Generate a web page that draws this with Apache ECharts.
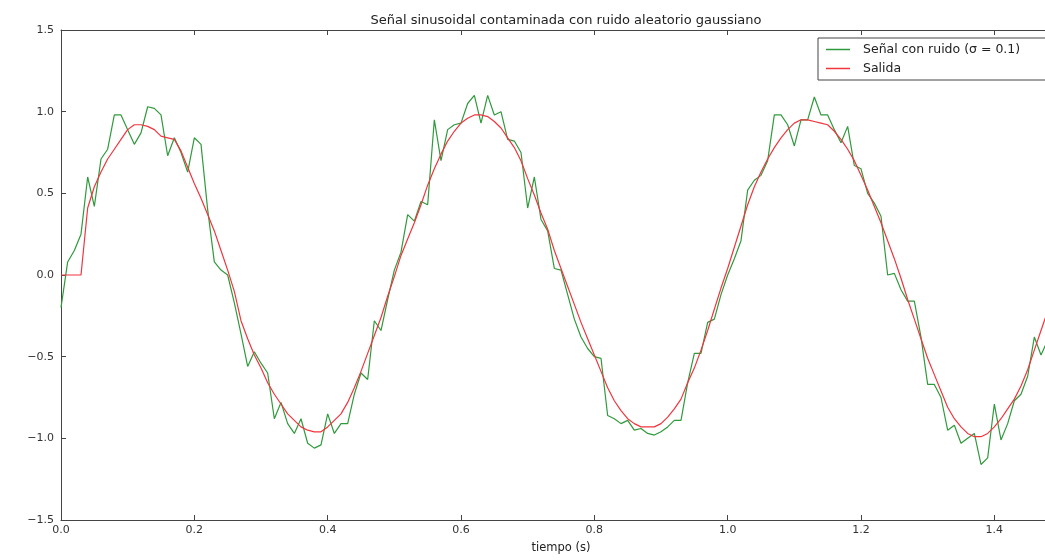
<!DOCTYPE html>
<html>
<head>
<meta charset="utf-8">
<script src="https://cdn.jsdelivr.net/npm/echarts@6/dist/echarts.min.js"></script>
<style>
  html, body { margin: 0; padding: 0; background: #ffffff; }
  #chart { width: 1045px; height: 560px; }
</style>
</head>
<body>
<div id="chart"></div>
<script>
// Sample times (s), 10 ms sampling
const tiempo = [
  0.00,0.01,0.02,0.03,0.04,0.05,0.06,0.07,0.08,0.09,
  0.10,0.11,0.12,0.13,0.14,0.15,0.16,0.17,0.18,0.19,
  0.20,0.21,0.22,0.23,0.24,0.25,0.26,0.27,0.28,0.29,
  0.30,0.31,0.32,0.33,0.34,0.35,0.36,0.37,0.38,0.39,
  0.40,0.41,0.42,0.43,0.44,0.45,0.46,0.47,0.48,0.49,
  0.50,0.51,0.52,0.53,0.54,0.55,0.56,0.57,0.58,0.59,
  0.60,0.61,0.62,0.63,0.64,0.65,0.66,0.67,0.68,0.69,
  0.70,0.71,0.72,0.73,0.74,0.75,0.76,0.77,0.78,0.79,
  0.80,0.81,0.82,0.83,0.84,0.85,0.86,0.87,0.88,0.89,
  0.90,0.91,0.92,0.93,0.94,0.95,0.96,0.97,0.98,0.99,
  1.00,1.01,1.02,1.03,1.04,1.05,1.06,1.07,1.08,1.09,
  1.10,1.11,1.12,1.13,1.14,1.15,1.16,1.17,1.18,1.19,
  1.20,1.21,1.22,1.23,1.24,1.25,1.26,1.27,1.28,1.29,
  1.30,1.31,1.32,1.33,1.34,1.35,1.36,1.37,1.38,1.39,
  1.40,1.41,1.42,1.43,1.44,1.45,1.46,1.47,1.48
];

// Noisy signal (green)
const senalRuido = [
  -0.20,0.08,0.15,0.25,0.60,0.42,0.71,0.77,0.98,0.98,
  0.89,0.80,0.87,1.03,1.02,0.98,0.73,0.84,0.75,0.63,
  0.84,0.80,0.40,0.08,0.03,0.00,-0.17,-0.36,-0.56,-0.47,
  -0.54,-0.60,-0.88,-0.78,-0.91,-0.97,-0.88,-1.03,-1.06,-1.04,
  -0.85,-0.97,-0.91,-0.91,-0.73,-0.60,-0.64,-0.28,-0.34,-0.15,
  0.03,0.14,0.37,0.33,0.45,0.43,0.95,0.70,0.89,0.92,
  0.93,1.05,1.10,0.93,1.10,0.98,1.00,0.83,0.82,0.75,
  0.41,0.60,0.34,0.27,0.04,0.03,-0.12,-0.27,-0.38,-0.45,
  -0.50,-0.51,-0.86,-0.88,-0.91,-0.89,-0.95,-0.94,-0.97,-0.98,
  -0.96,-0.93,-0.89,-0.89,-0.66,-0.48,-0.48,-0.29,-0.27,-0.12,
  0.00,0.10,0.21,0.52,0.58,0.61,0.70,0.98,0.98,0.92,
  0.79,0.95,0.95,1.09,0.98,0.98,0.89,0.81,0.91,0.67,
  0.65,0.50,0.44,0.36,0.00,0.01,-0.09,-0.16,-0.16,-0.38,
  -0.67,-0.67,-0.75,-0.95,-0.92,-1.03,-1.00,-0.97,-1.16,-1.12,
  -0.79,-1.01,-0.91,-0.77,-0.73,-0.62,-0.38,-0.49,-0.40
];

// Filter output (red)
const salida = [
  0.00,0.00,0.00,0.00,0.41,0.54,0.63,0.71,0.77,0.83,
  0.89,0.92,0.92,0.91,0.89,0.85,0.84,0.83,0.76,0.66,
  0.56,0.47,0.37,0.27,0.15,0.03,-0.10,-0.28,-0.39,-0.49,
  -0.57,-0.66,-0.73,-0.79,-0.85,-0.89,-0.93,-0.95,-0.96,-0.96,
  -0.93,-0.89,-0.85,-0.78,-0.69,-0.59,-0.48,-0.37,-0.26,-0.13,
  -0.01,0.12,0.22,0.32,0.43,0.55,0.65,0.74,0.82,0.88,
  0.93,0.96,0.98,0.98,0.97,0.94,0.90,0.84,0.78,0.70,
  0.59,0.49,0.38,0.28,0.15,0.04,-0.07,-0.18,-0.29,-0.39,
  -0.49,-0.59,-0.69,-0.77,-0.83,-0.88,-0.91,-0.93,-0.93,-0.93,
  -0.91,-0.87,-0.82,-0.76,-0.66,-0.57,-0.46,-0.34,-0.21,-0.08,
  0.04,0.17,0.30,0.43,0.54,0.63,0.71,0.78,0.84,0.89,
  0.93,0.95,0.95,0.94,0.93,0.92,0.88,0.83,0.77,0.70,
  0.61,0.52,0.42,0.32,0.21,0.10,-0.02,-0.15,-0.27,-0.39,
  -0.51,-0.61,-0.71,-0.81,-0.88,-0.93,-0.97,-0.99,-0.99,-0.97,
  -0.93,-0.88,-0.82,-0.76,-0.68,-0.58,-0.46,-0.34,-0.22
];

const nombreRuido = 'Señal con ruido (σ = 0.1)';
const nombreSalida = 'Salida';
const tituloTexto = 'Señal sinusoidal contaminada con ruido aleatorio gaussiano';
const ejeX = 'tiempo (s)';

const FONT = 'DejaVu Sans';
const fmt = v => (v < 0 ? '\u2212' : '') + Math.abs(v).toFixed(1);

const chart = echarts.init(document.getElementById('chart'), null, { renderer: 'canvas' });

const frameLine = { show: true, onZero: false, lineStyle: { color: '#444', width: 1 } };
const tickIn = { show: true, inside: true, length: 5, lineStyle: { color: '#444', width: 1 } };

// visible part of the time axis (the original figure is cropped on the right)
const X_MIN = 0, X_MAX = 1.476;

chart.setOption({
  animation: false,
  backgroundColor: '#ffffff',
  title: {
    text: tituloTexto,
    left: 561,
    top: 9,
    textAlign: 'center',
    textStyle: { fontFamily: FONT, fontSize: 13, fontWeight: 'normal', color: '#222' }
  },
  legend: {
    orient: 'vertical',
    left: 818,
    top: 38,
    padding: [5, 60, 5, 8],
    itemGap: 6,
    itemWidth: 24,
    itemHeight: 1.5,
    icon: 'rect',
    borderColor: '#444',
    borderWidth: 1,
    backgroundColor: '#ffffff',
    textStyle: { fontFamily: FONT, fontSize: 12.5, color: '#222', padding: [0, 0, 0, 8] },
    data: [nombreRuido, nombreSalida]
  },
  grid: { left: 61, top: 30, right: 0, bottom: 40, containLabel: false },
  xAxis: [
    {
      type: 'value', min: X_MIN, max: X_MAX, interval: 0.2,
      name: ejeX, nameLocation: 'middle', nameGap: 22,
      nameTextStyle: { fontFamily: FONT, fontSize: 11.5, color: '#222', padding: [0, 0, 0, 16] },
      axisLine: frameLine, axisTick: tickIn,
      axisLabel: { fontFamily: FONT, fontSize: 11, color: '#333', margin: 5, formatter: fmt, showMaxLabel: false },
      splitLine: { show: false }
    },
    {
      type: 'value', position: 'top', min: X_MIN, max: X_MAX, interval: 0.2,
      axisLine: frameLine, axisTick: tickIn,
      axisLabel: { show: false }, splitLine: { show: false }
    }
  ],
  yAxis: [
    {
      type: 'value', min: -1.5, max: 1.5, interval: 0.5,
      axisLine: frameLine, axisTick: tickIn,
      axisLabel: { fontFamily: FONT, fontSize: 11, color: '#333', margin: 7, formatter: fmt },
      splitLine: { show: false }
    }
  ],
  series: [
    {
      name: nombreRuido, type: 'line', symbol: 'none', showSymbol: false,
      data: tiempo.map((t, i) => [t, senalRuido[i]]),
      lineStyle: { color: '#2f9a3c', width: 1.2 },
      itemStyle: { color: '#2f9a3c' },
      clip: true,
      z: 2
    },
    {
      name: nombreSalida, type: 'line', symbol: 'none', showSymbol: false,
      data: tiempo.map((t, i) => [t, salida[i]]),
      lineStyle: { color: '#f0353f', width: 1.2 },
      itemStyle: { color: '#f0353f' },
      clip: true,
      z: 3
    }
  ]
});
</script>
</body>
</html>
